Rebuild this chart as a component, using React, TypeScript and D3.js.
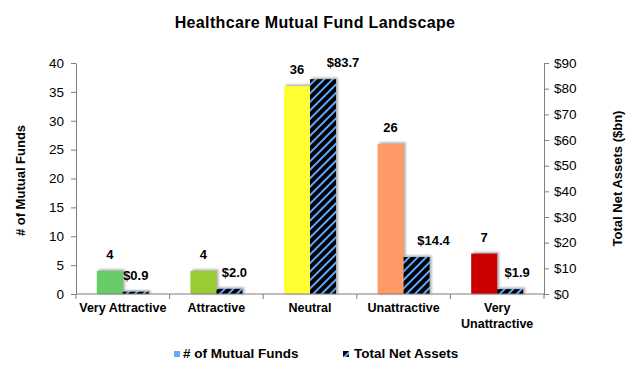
import React, { useEffect, useRef } from 'react';
import * as d3 from 'd3';

const CATEGORIES = ['Very Attractive', 'Attractive', 'Neutral', 'Unattractive', 'Very Unattractive'];
const FUND_COUNTS = [4, 4, 36, 26, 7];
const NET_ASSETS = [0.9, 2.0, 83.7, 14.4, 1.9];
const FUND_COLORS = ['#66CC66', '#99CC33', '#FFFF33', '#FF9966', '#CC0000'];
const LEFT_TICKS = [0, 5, 10, 15, 20, 25, 30, 35, 40];
const RIGHT_TICKS = [0, 10, 20, 30, 40, 50, 60, 70, 80, 90];

// label nudges, as the labels were dragged around in the original
const ASSET_LABEL_DX = [0, 5, 20, 17, 7];

const FONT = "'Liberation Sans', Arial, sans-serif";
const W = 630;
const H = 368;

const App = () => {
  const svgRef = useRef<SVGSVGElement>(null);

  useEffect(() => {
    const svg = d3.select(svgRef.current);
    svg.selectAll('*').remove();

    const margin = { top: 63, right: 86, bottom: 74, left: 76 };
    const innerW = W - margin.left - margin.right;
    const innerH = H - margin.top - margin.bottom;

    const defs = svg.append('defs');
    const pat = defs.append('pattern')
      .attr('id', 'hatch')
      .attr('patternUnits', 'userSpaceOnUse')
      .attr('width', 6)
      .attr('height', 6)
      .attr('patternTransform', 'rotate(45)');
    pat.append('rect').attr('width', 6).attr('height', 6).attr('fill', '#000');
    pat.append('rect').attr('width', 2).attr('height', 6).attr('fill', '#5AA8FF');

    const blur = defs.append('filter').attr('id', 'shadow')
      .attr('x', '-20%').attr('y', '-20%').attr('width', '140%').attr('height', '140%');
    blur.append('feGaussianBlur').attr('stdDeviation', 0.8);

    const g = svg.append('g').attr('transform', `translate(${margin.left},${margin.top})`);

    const x0 = d3.scaleBand().domain(CATEGORIES).range([0, innerW]);
    const x1 = d3.scaleBand().domain(['funds', 'assets']).range([0, x0.bandwidth()]).paddingOuter(0.8);
    const yL = d3.scaleLinear().domain([0, 40]).range([innerH, 0]);
    const yR = d3.scaleLinear().domain([0, 90]).range([innerH, 0]);

    const data = CATEGORIES.map((c, i) => ({
      cat: c, funds: FUND_COUNTS[i], assets: NET_ASSETS[i], color: FUND_COLORS[i], i,
    }));

    // shadows
    const shadowFor = (key: 'funds' | 'assets', yScale: d3.ScaleLinear<number, number>) => {
      g.selectAll(`.sh-${key}`)
        .data(data)
        .enter()
        .append('rect')
        .attr('x', d => (x0(d.cat) as number) + (x1(key) as number) + 2)
        .attr('y', d => yScale(d[key]) - 1.5)
        .attr('width', x1.bandwidth())
        .attr('height', d => innerH - yScale(d[key]) + 1.5)
        .attr('fill', '#8a8a8a')
        .attr('opacity', 0.7)
        .attr('filter', 'url(#shadow)');
    };
    shadowFor('funds', yL);
    shadowFor('assets', yR);

    g.selectAll('.bar-funds')
      .data(data)
      .enter()
      .append('rect')
      .attr('x', d => (x0(d.cat) as number) + (x1('funds') as number))
      .attr('y', d => yL(d.funds))
      .attr('width', x1.bandwidth())
      .attr('height', d => innerH - yL(d.funds))
      .attr('fill', d => d.color);

    g.selectAll('.bar-assets')
      .data(data)
      .enter()
      .append('rect')
      .attr('x', d => (x0(d.cat) as number) + (x1('assets') as number))
      .attr('y', d => yR(d.assets))
      .attr('width', x1.bandwidth())
      .attr('height', d => innerH - yR(d.assets))
      .attr('fill', 'url(#hatch)');

    // value labels
    g.selectAll('.lbl-funds')
      .data(data)
      .enter()
      .append('text')
      .attr('x', d => (x0(d.cat) as number) + (x1('funds') as number) + x1.bandwidth() / 2)
      .attr('y', d => yL(d.funds) - 12)
      .attr('text-anchor', 'middle')
      .style('font-family', FONT)
      .style('font-size', '13px')
      .style('font-weight', 'bold')
      .text(d => d.funds);

    g.selectAll('.lbl-assets')
      .data(data)
      .enter()
      .append('text')
      .attr('x', d => (x0(d.cat) as number) + (x1('assets') as number) + x1.bandwidth() / 2 + ASSET_LABEL_DX[d.i])
      .attr('y', d => yR(d.assets) - 12)
      .attr('text-anchor', 'middle')
      .style('font-family', FONT)
      .style('font-size', '13px')
      .style('font-weight', 'bold')
      .text(d => '$' + d.assets.toFixed(1));

    const styleAxis = (ax: d3.Selection<SVGGElement, unknown, null, undefined>) => {
      ax.select('.domain').attr('stroke', '#7f7f7f');
      ax.selectAll('.tick line').attr('stroke', '#7f7f7f');
      ax.selectAll('.tick text')
        .style('font-family', FONT)
        .style('font-size', '13.5px')
        .attr('fill', '#000');
    };

    const leftAxis = g.append('g')
      .call(d3.axisLeft(yL).tickValues(LEFT_TICKS).tickSize(5).tickSizeOuter(0).tickPadding(7));
    styleAxis(leftAxis);

    const rightAxis = g.append('g')
      .attr('transform', `translate(${innerW},0)`)
      .call(d3.axisRight(yR).tickValues(RIGHT_TICKS).tickSize(5).tickSizeOuter(0).tickPadding(5)
        .tickFormat(d => '$' + d));
    styleAxis(rightAxis);

    // bottom axis: line with ticks at category boundaries
    const bottom = g.append('g').attr('transform', `translate(0,${innerH})`);
    bottom.append('line')
      .attr('x1', 0).attr('x2', innerW)
      .attr('stroke', '#7f7f7f');
    bottom.selectAll('.btick')
      .data([...CATEGORIES.map(c => x0(c) as number), innerW])
      .enter()
      .append('line')
      .attr('x1', d => d).attr('x2', d => d)
      .attr('y1', 0).attr('y2', 5)
      .attr('stroke', '#7f7f7f');

    const catText = bottom.selectAll('.cat')
      .data(CATEGORIES)
      .enter()
      .append('text')
      .attr('x', d => (x0(d) as number) + x0.bandwidth() / 2)
      .attr('y', 18)
      .attr('text-anchor', 'middle')
      .style('font-family', FONT)
      .style('font-size', '12.5px')
      .style('font-weight', 'bold');
    catText.each(function (d) {
      const words = d === 'Very Unattractive' ? ['Very', 'Unattractive'] : [d];
      const t = d3.select(this);
      words.forEach((w, k) => {
        t.append('tspan')
          .attr('x', (x0(d) as number) + x0.bandwidth() / 2)
          .attr('dy', k === 0 ? 0 : 16)
          .text(w);
      });
    });

    // axis titles
    svg.append('text')
      .attr('transform', `translate(25,${margin.top + innerH / 2 + 2}) rotate(-90)`)
      .attr('text-anchor', 'middle')
      .style('font-family', FONT)
      .style('font-size', '13px')
      .style('font-weight', 'bold')
      .text('# of Mutual Funds');

    svg.append('text')
      .attr('transform', `translate(622,${margin.top + innerH / 2}) rotate(-90)`)
      .attr('text-anchor', 'middle')
      .style('font-family', FONT)
      .style('font-size', '13px')
      .style('font-weight', 'bold')
      .text('Total Net Assets ($bn)');

    // title
    svg.append('text')
      .attr('x', W / 2)
      .attr('y', 28)
      .attr('text-anchor', 'middle')
      .style('font-family', FONT)
      .style('font-size', '16px')
      .style('letter-spacing', '0.35px')
      .style('font-weight', 'bold')
      .text('Healthcare Mutual Fund Landscape');

    // legend
    const legend = svg.append('g').attr('transform', 'translate(174,351)');
    legend.append('rect').attr('width', 6).attr('height', 6).attr('fill', '#66AAFF');
    legend.append('text')
      .attr('x', 9).attr('y', 7)
      .style('font-family', FONT)
      .style('font-size', '13.5px')
      .style('font-weight', 'bold')
      .text('# of Mutual Funds');
    legend.append('rect').attr('x', 169).attr('width', 6).attr('height', 6).attr('fill', '#000');
    legend.append('path')
      .attr('d', 'M169,6 L175,0 L175,3 L172,6 Z')
      .attr('fill', '#5AA8FF');
    legend.append('text')
      .attr('x', 180).attr('y', 7)
      .style('font-family', FONT)
      .style('font-size', '13.5px')
      .style('font-weight', 'bold')
      .text('Total Net Assets');
  }, []);

  return (
    <div style={{ position: 'absolute', left: 0, top: 0 }}>
      <svg ref={svgRef} width={W} height={H} style={{ display: 'block', background: '#fff' }} />
    </div>
  );
};

export default App;
